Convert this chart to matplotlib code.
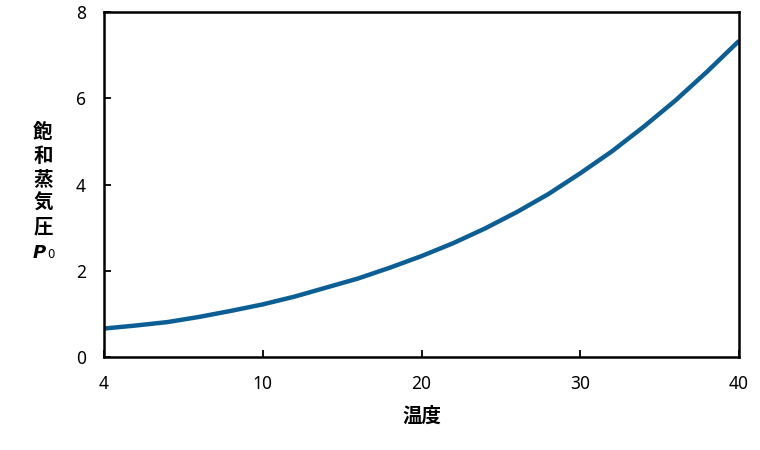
import matplotlib
matplotlib.use('Agg')
from matplotlib import pyplot as plt

plt.rcParams['font.family'] = ['Noto Sans CJK JP', 'DejaVu Sans']

# temperature (deg C) and saturation vapour pressure
temperature = [0, 2, 4, 6, 8, 10, 12, 14, 16, 18, 20,
               22, 24, 26, 28, 30, 32, 34, 36, 38, 40]
pressure = [0.66, 0.73, 0.81, 0.93, 1.07, 1.22, 1.40, 1.61, 1.82, 2.07, 2.34,
            2.64, 2.98, 3.36, 3.78, 4.26, 4.77, 5.34, 5.95, 6.62, 7.33]

x_ticks = [0, 10, 20, 30, 40]
x_tick_labels = ['4', '10', '20', '30', '40']
y_ticks = [0, 2, 4, 6, 8]

line_color = '#0b5f95'

fig = plt.figure(figsize=(7.6, 4.5), dpi=100)
ax = fig.add_axes([104 / 760, 93 / 450, 635 / 760, 345 / 450])

ax.plot(temperature, pressure, color=line_color, linewidth=3.2,
        solid_capstyle='butt', solid_joinstyle='round')

ax.set_xlim(0, 40)
ax.set_ylim(0, 8)
ax.set_xticks(x_ticks)
ax.set_xticklabels(x_tick_labels)
ax.set_yticks(y_ticks)

for side in ['left', 'right', 'top', 'bottom']:
    ax.spines[side].set_linewidth(1.8)
    ax.spines[side].set_color('black')

ax.tick_params(direction='in', length=5, width=1.3, labelsize=12.5,
               colors='black', pad=13)
ax.tick_params(axis='y', pad=13)
for lbl in ax.get_xticklabels() + ax.get_yticklabels():
    lbl.set_family(['Noto Sans', 'DejaVu Sans'])

ax.set_xlabel('温度', fontsize=14, fontweight='bold', labelpad=10)

fig.text(43 / 760, 1 - 180 / 450, '飽\n和\n蒸\n気\n圧', ha='center',
         va='center', fontsize=14, fontweight='bold', linespacing=1.3)
fig.text(46 / 760, 1 - 253 / 450, 'P', ha='right', va='center',
         fontsize=13, fontweight='bold', style='italic',
         family=['DejaVu Sans'])
fig.text(47 / 760, 1 - 254 / 450, '0', ha='left', va='center',
         fontsize=8.5, family=['DejaVu Sans'])
fig.savefig('out.png', dpi=100)
